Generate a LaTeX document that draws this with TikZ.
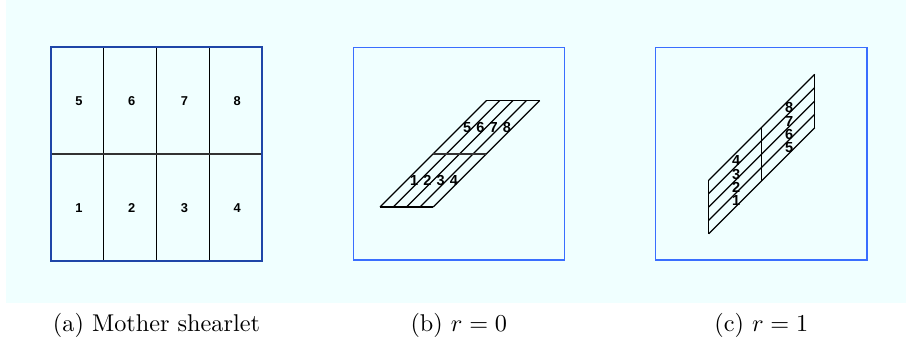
\documentclass[tikz,border=0pt]{standalone}
\usepackage{fontspec}
\newfontfamily\cellfont{Liberation Sans}
\usepackage{tikz}
\usetikzlibrary{calc}
\definecolor{panelFill}{HTML}{F0FFFF}
\definecolor{motherBorder}{HTML}{1F46A8}
\definecolor{shearBorder}{HTML}{3A6EFF}
\definecolor{midLine}{HTML}{333333}

\begin{document}
\begin{tikzpicture}[
        x=0.0145cm, y=-0.0145cm,
        motherframe/.style={
            draw=motherBorder,
            line width=0.9pt
        },
        frame/.style={
            draw=shearBorder,
            line width=0.55pt
        },
        cell/.style={
            draw=black,
            line width=0.5pt
        },
        midcell/.style={
            draw=midLine,
            line width=0.75pt
        },
        cellnum/.style={
            font=\cellfont\bfseries\fontsize{5.3}{6}\selectfont,
            inner sep=0pt
        },
        shearnum/.style={
            cellnum,
            font=\cellfont\bfseries\fontsize{6}{7}\selectfont
        },
        caption/.style={
            anchor=base,
            inner sep=0pt
        }
    ]
    \useasboundingbox (0,0) rectangle (906,347);
    \fill[panelFill] (6,0) rectangle (906,303);

    % (a) mother shearlet
    \foreach \c in {1,2,3}
        \draw[cell] ({50.7+52.9*\c},47.3) -- ({50.7+52.9*\c},260.7);
    \draw[midcell] (50.7,154) -- (262.3,154);
    \draw[motherframe] (50.7,47.3) rectangle (262.3,260.7);
    \foreach \k [evaluate=\k as \j using int(\k+4)] in {1,...,4} {
        \node[cellnum] (a\k) at ({79+52.7*(\k-1)},208) {\k};
        \node[cellnum] (a\j) at ({79+52.7*(\k-1)},101) {\j};
    }

    % (b) r = 0
    \draw[frame] (353.3,47.3) rectangle (564.3,260);
    \foreach \i in {0,...,4}
        \draw[cell] ({380+13.3*\i},207) -- ({486.4+13.3*\i},100.6);
    \draw[cell] (380,207) -- (433.2,207);
    \draw[cell] (486.4,100.6) -- (539.6,100.6);
    \draw[midcell] (433.2,153.8) -- (486.4,153.8);
    \foreach \k [evaluate=\k as \j using int(\k+4)] in {1,...,4} {
        \node[shearnum] (b\k) at ({407.4+13.3*(\k-0.5)},180.6) {\k};
        \node[shearnum] (b\j) at ({460.4+13.3*(\k-0.5)},127.4) {\j};
    }

    % (c) r = 1
    \draw[frame] (655.7,47.3) rectangle (867,260);
    \foreach \i in {0,...,4}
        \draw[cell] (708.7,{233.7-13.35*\i}) -- (814.7,{127.7-13.35*\i});
    \draw[cell] (708.7,180.3) -- (708.7,233.7);
    \draw[cell] (814.7,74.3) -- (814.7,127.7);
    \draw[cell] (761.7,127.3) -- (761.7,180.7);
    \foreach \k [evaluate=\k as \j using int(\k+4)] in {1,...,4} {
        \node[shearnum] (c\k) at (736.2,{207.4-13.35*(\k-0.5)}) {\k};
        \node[shearnum] (c\j) at (789.2,{154.4-13.35*(\k-0.5)}) {\j};
    }

    \node[caption] (capA) at (156.5,332) {(a) Mother shearlet};
    \node[caption] (capB) at (458.8,332) {(b) $r = 0$};
    \node[caption] (capC) at (761.3,332) {(c) $r = 1$};
\end{tikzpicture}
\end{document}
